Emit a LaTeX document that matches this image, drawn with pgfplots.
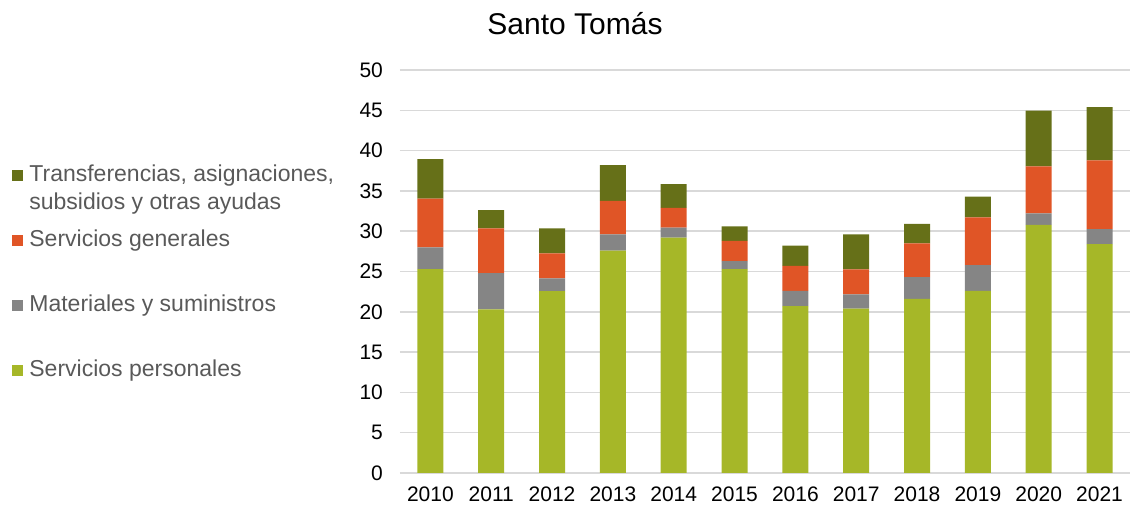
\documentclass[border=0pt]{standalone}
\usepackage{pgfplots}
\pgfplotsset{compat=1.18}
\usepackage{pgfplotstable}
\usepackage{fontspec}
\setmainfont{Liberation Sans}

\definecolor{cPers}{RGB}{166,183,40}
\definecolor{cMat}{RGB}{133,133,133}
\definecolor{cGen}{RGB}{224,85,38}
\definecolor{cTransf}{RGB}{102,112,24}
\definecolor{legtext}{RGB}{89,89,89}

% columns: servicios personales, materiales, servicios generales, transferencias
\pgfplotstableread{
x pers mat gen transf
0  25.3  2.7  6.05 4.9
1  20.3  4.5  5.55 2.25
2  22.55 1.6  3.1  3.1
3  27.6  2.0  4.15 4.45
4  29.2  1.25 2.45 2.95
5  25.3  1.0  2.5  1.8
6  20.7  1.9  3.1  2.5
7  20.4  1.75 3.1  4.35
8  21.6  2.7  4.2  2.4
9  22.6  3.2  5.9  2.6
10 30.8  1.4  5.85 6.9
11 28.4  1.85 8.55 6.6
}\santotomas

\begin{document}
\begin{tikzpicture}
\path[use as bounding box] (-200pt,-18pt) rectangle (366pt,236.5pt);
\begin{axis}[
  width=365pt, height=201.5pt, scale only axis,
  ybar stacked, bar width=13pt,
  xmin=-0.5, xmax=11.5, ymin=0, ymax=50,
  ytick={0,5,...,50},
  xtick={0,...,11},
  xticklabels={2010,2011,2012,2013,2014,2015,2016,2017,2018,2019,2020,2021},
  axis line style={draw=none},
  major tick length=0pt,
  ymajorgrids,
  grid style={draw=black!15, line width=0.75pt},
  /pgf/number format/assume math mode=true,
  tick label style={font=\fontsize{10.5}{12}\selectfont, text=black},
  xticklabel style={yshift=-3.5pt},
  yticklabel style={xshift=-5pt},
  title={Santo Tomás},
  title style={at={(0.2397,1.085)}, anchor=center, font=\fontsize{15}{18}\selectfont},
  reverse legend,
  legend style={at={(-0.5315,0.753)}, anchor=north west, draw=none, fill=none,
    inner sep=0pt, font=\fontsize{11.5}{14}\selectfont, text=legtext,
    row sep=23pt, cells={anchor=base west},
    /tikz/every odd column/.append style={column sep=1pt}},
  legend image code/.code={\fill[#1] (0pt,0.5pt) rectangle (5.5pt,6pt);},
  every axis plot/.append style={draw=none},
]
  \addplot[fill=cPers] table[x=x, y=pers] {\santotomas};
  \addlegendentry{\smash{Servicios personales}}
  \addplot[fill=cMat] table[x=x, y=mat] {\santotomas};
  \addlegendentry{\smash{Materiales y suministros}}
  \addplot[fill=cGen] table[x=x, y=gen] {\santotomas};
  \addlegendentry{\smash{Servicios generales}}
  \addplot[fill=cTransf] table[x=x, y=transf] {\santotomas};
  \addlegendentry{\smash{\parbox[t]{170pt}{Transferencias, asignaciones,\\subsidios y otras ayudas}}}
\end{axis}
\end{tikzpicture}
\end{document}
